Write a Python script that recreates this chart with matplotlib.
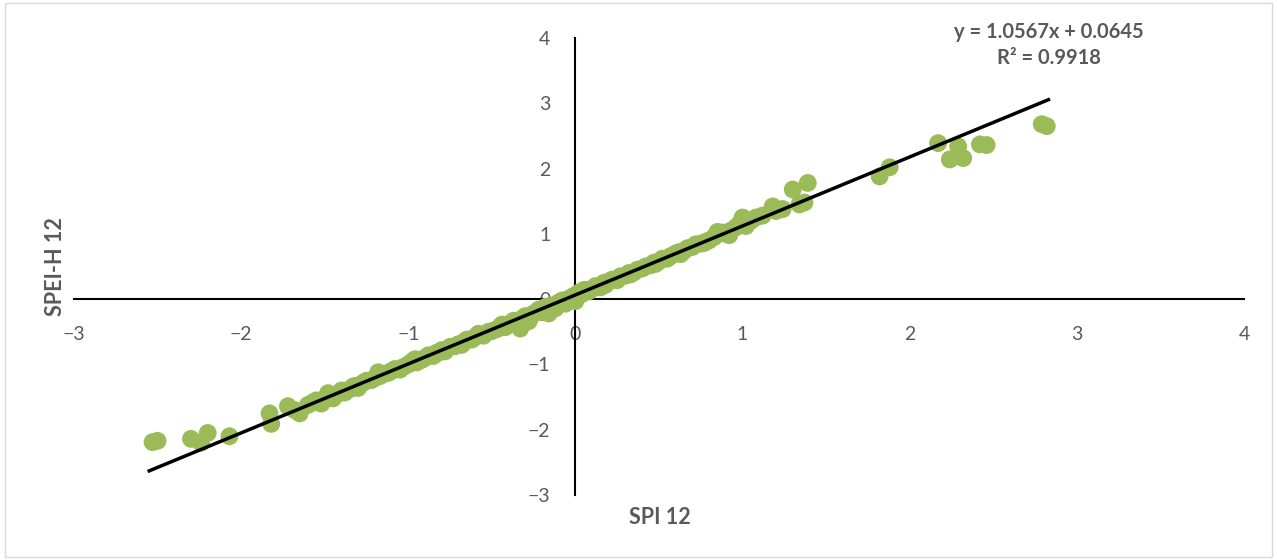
import matplotlib.pyplot as plt
from matplotlib.patches import Rectangle

# values (SPI 12 vs SPEI-H 12)
spi12 = [
    -2.53, -2.50, -2.30, -2.24, -2.20, -2.07, -1.83, -1.82, -1.72, -1.68, -1.65,
    -1.60, -1.57, -1.55, -1.52, -1.50, -1.47, -1.45, -1.42, -1.40, -1.38, -1.35,
    -1.32, -1.30, -1.27, -1.25, -1.22, -1.20, -1.17, -1.15, -1.12, -1.10, -1.08,
    -1.05, -1.03, -1.00, -0.98, -0.95, -0.92, -0.90, -0.88, -0.85, -0.82, -0.80,
    -0.78, -0.75, -0.72, -0.70, -0.68, -0.65, -0.62, -0.60, -0.57, -0.55, -0.52,
    -0.50, -0.47, -0.45, -0.42, -0.40, -0.37, -0.35, -0.33, -0.32, -0.30, -0.27,
    -0.25, -0.22, -0.20, -0.18, -0.15, -0.12, -0.10, -0.08, -0.05, -0.03, -0.01,
    0.00, 0.02, 0.04, 0.06, 0.08, 0.10, 0.12, 0.15, 0.17, 0.20, 0.22, 0.25,
    0.27, 0.30, 0.32, 0.35, 0.37, 0.40, 0.42, 0.45, 0.47, 0.50, 0.52, 0.55,
    0.57, 0.60, 0.62, 0.65, 0.67, 0.70, 0.72, 0.75, 0.78, 0.80, 0.83, 0.85,
    0.88, 0.90, 0.93, 0.96, 0.98, 1.00, 1.02, 1.05, 1.08, 1.12, 1.18, 1.20,
    1.24, 1.30, 1.34, 1.37, 1.39, 1.82, 1.88, 2.17, 2.24, 2.29, 2.32, 2.42,
    2.46, 2.79, 2.82,
    # extra points thickening the band
    -1.48, -1.33, -1.18, -0.96, -0.83, -0.66, -0.58, -0.44, -0.28, -0.16,
    -0.06, 0.05, 0.18, 0.33, 0.48, 0.63, 0.77, 0.92,
]
spei_h12 = [
    -2.19, -2.17, -2.14, -2.20, -2.05, -2.10, -1.75, -1.91, -1.64, -1.70, -1.75,
    -1.62, -1.58, -1.55, -1.60, -1.53, -1.48, -1.52, -1.45, -1.40, -1.43, -1.38,
    -1.33, -1.36, -1.28, -1.25, -1.24, -1.21, -1.18, -1.15, -1.13, -1.10, -1.07,
    -1.08, -1.04, -1.00, -0.96, -0.97, -0.93, -0.90, -0.86, -0.87, -0.82, -0.78,
    -0.80, -0.73, -0.72, -0.69, -0.70, -0.62, -0.62, -0.58, -0.55, -0.56, -0.50,
    -0.49, -0.46, -0.42, -0.43, -0.38, -0.33, -0.36, -0.45, -0.30, -0.26, -0.28,
    -0.22, -0.16, -0.20, -0.12, -0.10, -0.14, -0.05, -0.02, -0.01, 0.02, 0.05,
    -0.03, 0.10, 0.08, 0.14, 0.12, 0.16, 0.20, 0.18, 0.25, 0.27, 0.30, 0.29,
    0.35, 0.36, 0.40, 0.41, 0.45, 0.47, 0.50, 0.52, 0.56, 0.58, 0.62, 0.62,
    0.66, 0.70, 0.72, 0.74, 0.78, 0.80, 0.84, 0.85, 0.88, 0.90, 0.95, 1.03,
    1.02, 1.00, 1.05, 1.10, 1.15, 1.25, 1.12, 1.20, 1.25, 1.28, 1.42, 1.35,
    1.38, 1.68, 1.45, 1.48, 1.78, 1.88, 2.02, 2.39, 2.14, 2.34, 2.16, 2.37,
    2.36, 2.68, 2.65,
    -1.44, -1.34, -1.12, -0.92, -0.82, -0.64, -0.53, -0.39, -0.34, -0.22,
    -0.07, 0.14, 0.22, 0.38, 0.54, 0.69, 0.86, 0.98,
]

# trend line as printed on the chart
slope = 1.0567
intercept = 0.0645
line_x = [-2.55, 2.83]
eq_text = "y = 1.0567x + 0.0645\nR² = 0.9918"

green = "#9BBB59"
grey = "#595959"
plt.rcParams["font.family"] = ["Lato", "DejaVu Sans"]

fig = plt.figure(figsize=(12.77, 5.6), dpi=100)
fig.patches.append(Rectangle((0.004, 0.006), 0.992, 0.988, transform=fig.transFigure,
                             fill=False, edgecolor="#d9d9d9", linewidth=1))
ax = fig.add_axes([74 / 1277, 1 - 495 / 560, 1170 / 1277, 457 / 560])

ax.scatter(spi12, spei_h12, s=165, color=green, edgecolors="none", zorder=3)
ax.plot(line_x, [slope * v + intercept for v in line_x], color="black", lw=2.5, zorder=4)

ax.set_xlim(-3, 4)
ax.set_ylim(-3, 4)
ax.set_xticks(range(-3, 5))
ax.set_yticks(range(-3, 5))
for s in ["top", "right"]:
    ax.spines[s].set_visible(False)
for s in ["left", "bottom"]:
    ax.spines[s].set_position(("data", 0))
    ax.spines[s].set_linewidth(1.5)
    ax.spines[s].set_zorder(2)
ax.tick_params(axis="both", length=0, labelsize=14, labelcolor=grey)
ax.tick_params(axis="x", pad=19)
ax.tick_params(axis="y", pad=18)

ax.text((1049 - 74) / 1170, 0.985, eq_text, transform=ax.transAxes, ha="center", va="center",
        fontsize=14.5, fontweight="bold", color=grey, linespacing=1.35)
fig.text(660 / 1277, 1 - 518 / 560, "SPI 12", ha="center", va="center",
         fontsize=15.5, fontweight="bold", color=grey)
fig.text(56 / 1277, 1 - 267 / 560, "SPEI-H 12", ha="center", va="center",
         rotation=90, fontsize=15.5, fontweight="bold", color=grey)

plt.savefig("out.png", dpi=100)
